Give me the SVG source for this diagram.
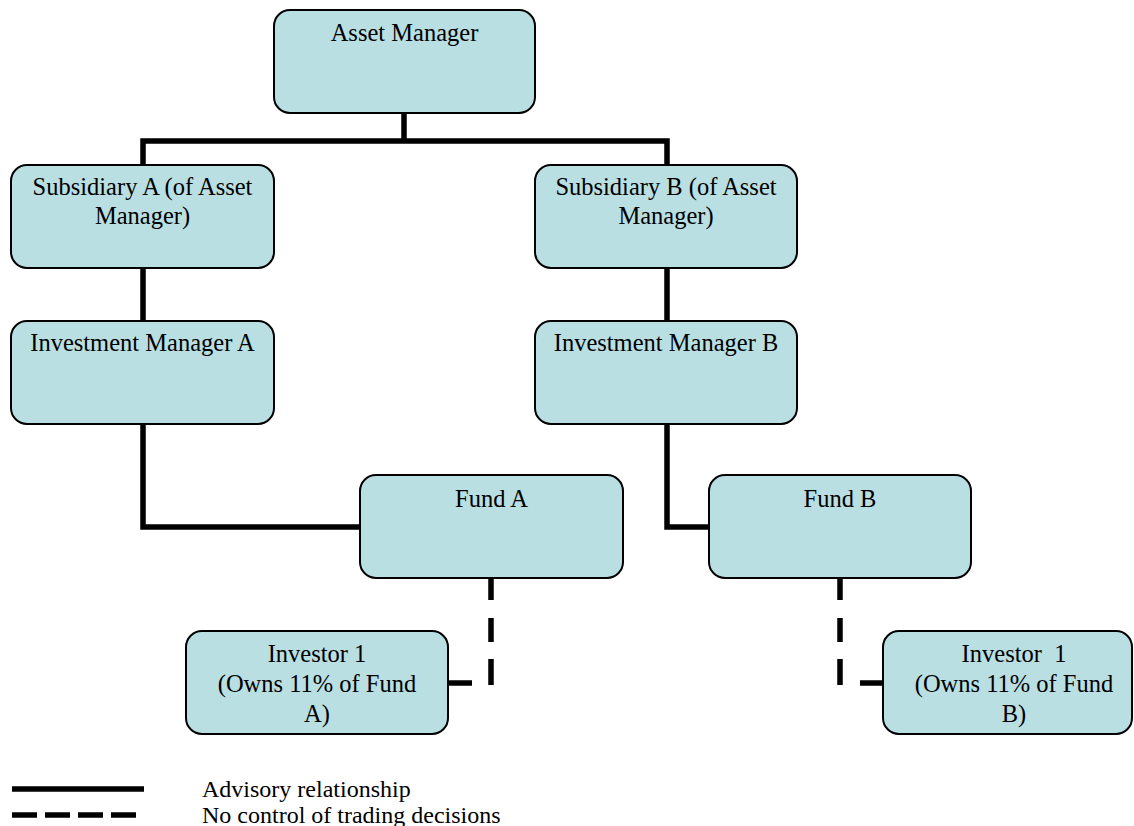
<svg xmlns="http://www.w3.org/2000/svg" width="1134" height="826" viewBox="0 0 1134 826">
  <style>
    .box { fill: #B9DFE3; stroke: #000; stroke-width: 2; }
    .lbl { font-family: "Liberation Serif", "Times New Roman", serif; font-size: 24.5px; fill: #000; text-anchor: middle; }
    .key { font-family: "Liberation Serif", "Times New Roman", serif; font-size: 24px; fill: #000; }
    .solid { fill: none; stroke: #000; stroke-width: 5.5; }
  </style>
  <rect width="1134" height="826" fill="#fff"/>

  <g id="connectors">
    <!-- Asset Manager to subsidiaries -->
    <path class="solid" d="M404,113 V141 M143,165 V141 H667 V165"/>
    <!-- Subsidiaries to investment managers -->
    <path class="solid" d="M143,268 V321 M667,268 V321"/>
    <!-- Investment managers to funds -->
    <path class="solid" d="M143,424 V527 H360 M667,424 V527 H709"/>
    <!-- Funds to investors (dashed: no control of trading) -->
    <path class="solid" d="M491,578 V600 M491,618 V642 M491,659 V685"/>
    <path class="solid" d="M448,683 H472"/>
    <path class="solid" d="M840,578 V600 M840,618 V642 M840,659 V685"/>
    <path class="solid" d="M860,683 H883"/>
  </g>

  <g id="asset-manager">
    <rect class="box" x="274" y="10" width="261" height="103" rx="16"/>
    <text class="lbl" x="404.5" y="41">Asset Manager</text>
  </g>

  <g id="subsidiary-a">
    <rect class="box" x="11" y="165" width="263" height="103" rx="16"/>
    <text class="lbl" x="142.5" y="195">Subsidiary A (of Asset</text>
    <text class="lbl" x="142.5" y="224">Manager)</text>
  </g>

  <g id="subsidiary-b">
    <rect class="box" x="535" y="165" width="262" height="103" rx="16"/>
    <text class="lbl" x="666" y="195">Subsidiary B (of Asset</text>
    <text class="lbl" x="666" y="224">Manager)</text>
  </g>

  <g id="investment-manager-a">
    <rect class="box" x="11" y="321" width="263" height="103" rx="16"/>
    <text class="lbl" x="142.5" y="351">Investment Manager A</text>
  </g>

  <g id="investment-manager-b">
    <rect class="box" x="535" y="321" width="262" height="103" rx="16"/>
    <text class="lbl" x="666" y="351">Investment Manager B</text>
  </g>

  <g id="fund-a">
    <rect class="box" x="360" y="475" width="263" height="103" rx="16"/>
    <text class="lbl" x="491.5" y="507">Fund A</text>
  </g>

  <g id="fund-b">
    <rect class="box" x="709" y="475" width="262" height="103" rx="16"/>
    <text class="lbl" x="840" y="507">Fund B</text>
  </g>

  <g id="investor-a">
    <rect class="box" x="186" y="631" width="262" height="103" rx="16"/>
    <text class="lbl" x="317" y="662">Investor 1</text>
    <text class="lbl" x="317" y="692">(Owns 11% of Fund</text>
    <text class="lbl" x="317" y="722">A)</text>
  </g>

  <g id="investor-b">
    <rect class="box" x="883" y="631" width="249" height="103" rx="16"/>
    <text class="lbl" x="1014" y="662" xml:space="preserve">Investor  1</text>
    <text class="lbl" x="1014" y="692">(Owns 11% of Fund</text>
    <text class="lbl" x="1014" y="722">B)</text>
  </g>

  <g id="legend">
    <path class="solid" d="M12,789 H144"/>
    <path fill="none" stroke="#000" stroke-width="5.5" stroke-dasharray="25 8" d="M12,815 H137"/>
    <text class="key" x="202" y="797">Advisory relationship</text>
    <text class="key" x="202" y="823">No control of trading decisions</text>
  </g>
</svg>
